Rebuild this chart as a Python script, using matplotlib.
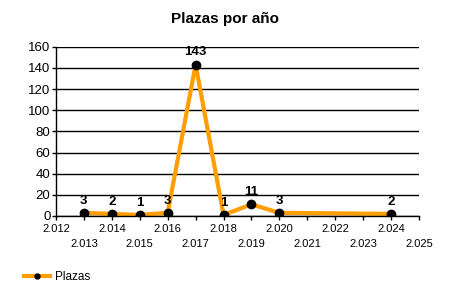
import matplotlib.pyplot as plt
from matplotlib.ticker import FixedLocator, FuncFormatter

plt.rcParams['font.family'] = ['Liberation Sans', 'DejaVu Sans']

# ── data ─────────────────────────────────────────────────────────────────────
years = [2013, 2014, 2015, 2016, 2017, 2018, 2019, 2020, 2024]
plazas = [3, 2, 1, 3, 143, 1, 11, 3, 2]
tick_years = list(range(2012, 2026))

ORANGE = "#FF9E00"

fig = plt.figure(figsize=(4.5, 3), dpi=100)
ax = fig.add_axes([0.1244, 0.28, 0.8067, 0.5644])

ax.plot(years, plazas, color=ORANGE, lw=3, marker="o", ms=6,
        mfc="black", mec="black", label="Plazas", solid_joinstyle="miter")

for x, y in zip(years, plazas):
    ax.annotate(str(y), (x, y), xytext=(0, 4.5), textcoords="offset points",
                ha="center", va="bottom", fontsize=9.5, fontweight="bold")

ax.set_xlim(2012, 2025)
ax.set_ylim(0, 160)
ax.set_yticks(range(0, 161, 20))
ax.yaxis.grid(True, color="black", lw=1)
ax.set_axisbelow(True)

ax.xaxis.set_major_locator(FixedLocator(tick_years))
ax.xaxis.set_major_formatter(FuncFormatter(lambda v, p: f"{int(v) // 1000}.{int(v) % 1000:03d}"))
for yr, t in zip(tick_years, ax.xaxis.get_major_ticks()):
    t.set_pad(3 if yr % 2 == 0 else 13.5)

ax.tick_params(axis="x", length=3, labelsize=8, width=1)
ax.tick_params(axis="y", length=3, labelsize=9.5, width=1, pad=1)

for s in ("top", "right"):
    ax.spines[s].set_visible(False)
for s in ("left", "bottom"):
    ax.spines[s].set_linewidth(1)

fig.text(0.5, 0.935, "Plazas por año", ha="center", va="center",
         fontsize=11, fontweight="bold")

fig.legend(loc="center left", bbox_to_anchor=(0.03, 0.075), frameon=False,
           fontsize=8.5, handlelength=2.2, handletextpad=0.4, markerscale=0.6)

fig.savefig("out.png", dpi=100)
